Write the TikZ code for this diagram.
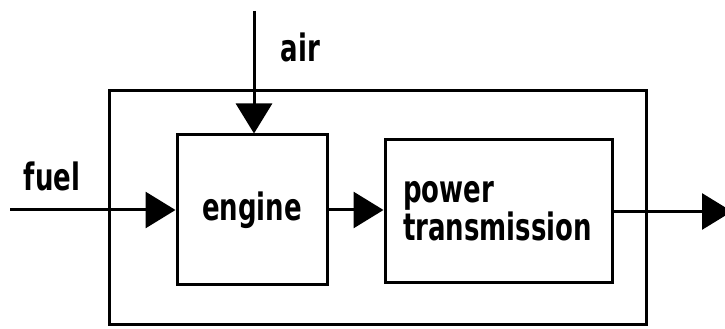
\documentclass[tikz,border=0pt]{standalone}
\usepackage{fontspec}
\setmainfont{DejaVu Sans}
\usepackage{graphicx}
\usetikzlibrary{arrows.meta,calc}

\newcommand{\tall}[1]{\scalebox{1}[1.45]{#1}}

\begin{document}
\begin{tikzpicture}[x=1pt,y=1pt,line width=3pt,
    >={Triangle[length=30pt,width=36pt]},
    box/.style={draw,inner sep=0pt},
    lbl/.style={font=\bfseries\fontsize{26}{38}\selectfont}]
  \useasboundingbox (0,0) rectangle (725,329);
  % outer frame and the two blocks
  \node[box,minimum width=537,minimum height=234] (plant) at (377.5,121) {};
  \node[box,lbl,minimum width=150,minimum height=150] (engine) at (252,119) {\tall{engine}\hspace{12pt}};
  \node[box,lbl,minimum width=227,minimum height=143,text width=191,
        inner xsep=18pt,align=left] (trans) at (498.5,117.5)
        {\tall{power}\\\tall{transmission}};
  % free ends of the flows
  \coordinate (air) at (254,318);
  \coordinate (fuel) at (10,119);
  \coordinate (out) at (732,114);
  \node[lbl,anchor=west] (airlbl) at (276,282) {\tall{air}};
  \node[lbl] (fuellbl) at (52,153) {\tall{fuel}};
  % flows
  \draw[->] (air) -- (air |- engine.north);
  \draw[->] (fuel) -- (engine.west);
  \draw[->] (engine.east) -- (engine.east -| trans.west);
  \draw[->] (trans.east) -- (trans.east -| out);
\end{tikzpicture}
\end{document}
